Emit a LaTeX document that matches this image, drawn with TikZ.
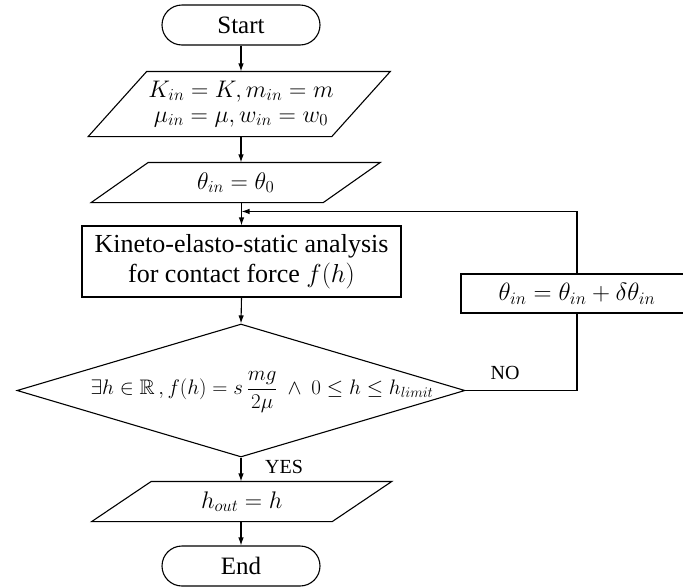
\RequirePackage{fix-cm}
\documentclass[tikz,border=0pt]{standalone}
\usepackage{fontspec}
\setmainfont{Liberation Serif}
\usepackage{amsmath,amssymb}
\usetikzlibrary{shapes.geometric,arrows.meta,calc}

\begin{document}
\begin{tikzpicture}[x=1pt,y=-1pt,
  line width=1.1pt,
  flow/.style={-{Latex[length=8pt,width=5.5pt]}},
  terminal/.style={draw, rounded corners=20pt, minimum width=158pt, minimum height=40pt,
    inner sep=0pt, font=\fontsize{25}{29}\selectfont},
  procbox/.style={draw, inner sep=0pt, align=center},
  iotext/.style={inner sep=0pt, align=center},
  txt/.style={font=\fontsize{26}{30}\selectfont},
  mth/.style={font=\fontsize{24}{28}\selectfont},
  lbl/.style={font=\fontsize{20}{24}\selectfont, inner sep=0pt}]
\useasboundingbox (0,0) rectangle (683,587);

% terminals
\node[terminal] (start) at (241,25) {Start};
\node[terminal] (stop) at (241,566) {End};

% input / output boxes (text nodes, outlines drawn below)
\node[iotext, mth, minimum width=238pt, minimum height=64pt] (p1) at (241,104)
  {$K_{in}=K, m_{in}=m$\\[-3pt] $\mu_{in}=\mu, w_{in}=w_0$};
\node[iotext, mth, minimum width=231pt, minimum height=39pt] (p2) at (235.75,182.5)
  {$\theta_{in}=\theta_0$};
\node[iotext, mth, minimum width=239.5pt, minimum height=39pt] (p3) at (241.75,501.5)
  {$h_{out}=h$};

\draw ([xshift=25.25pt]p1.north west) -- ([xshift=29.75pt]p1.north east)
  -- ([xshift=-28.75pt]p1.south east) -- ([xshift=-33.25pt]p1.south west) -- cycle;
\draw ([xshift=28.5pt]p2.north west) -- ([xshift=28.5pt]p2.north east)
  -- ([xshift=-28.5pt]p2.south east) -- ([xshift=-28.5pt]p2.south west) -- cycle;
\draw ([xshift=29.75pt]p3.north west) -- ([xshift=29.75pt]p3.north east)
  -- ([xshift=-29.75pt]p3.south east) -- ([xshift=-29.75pt]p3.south west) -- cycle;

% process boxes
\node[procbox, txt, minimum width=319pt, minimum height=71pt] (kin) at (241.5,261.5)
  {Kineto-elasto-static analysis\\for contact force $f(h)$};
\node[procbox, font=\fontsize{25}{29}\selectfont, minimum width=232pt, minimum height=39pt] (theta) at (577,293.5)
  {$\theta_{in}=\theta_{in}+\delta\theta_{in}$};

% decision
\node[diamond, draw, minimum width=448pt, minimum height=133pt, inner sep=0pt] (dia) at (241,390.5) {};
\node[font=\fontsize{21}{25}\selectfont, inner sep=0pt] (cond) at (262,392)
  {$\exists h\in\mathbb{R}\,, f(h)=s\,\dfrac{mg}{2\mu}\ \wedge\ 0\leq h\leq h_{limit}$};

% labels
\node[lbl] (no) at (505,373) {NO};
\node[lbl] (yes) at (284,467) {YES};

% connectors
\path (kin.north) ++(0,-14) coordinate (join);
\draw[flow] (start.south) -- (start.south |- p1.north);
\draw[flow] (start.south |- p1.south) -- (start.south |- p2.north);
\draw[flow] (kin.north |- p2.south) -- (kin.north);
\draw[flow] (kin.south) -- (dia.north);
\draw[flow] (dia.south) -- (dia.south |- p3.north);
\draw[flow] (dia.south |- p3.south) -- (stop.north);
\draw (dia.east) -| (theta.south);
\draw[flow] (theta.north) |- (join);
\end{tikzpicture}
\end{document}
